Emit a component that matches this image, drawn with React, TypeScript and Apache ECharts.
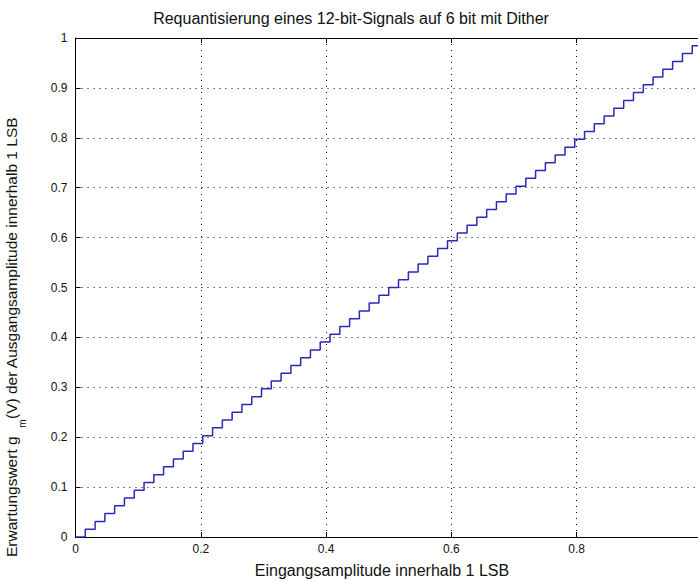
import React, { useEffect, useRef } from "react";
import * as echarts from "echarts";

const inputEdges = [
  0, 0.0156, 0.0313, 0.0469, 0.0625, 0.0781, 0.0938, 0.1094, 0.125, 0.1406, 0.1563, 0.1719, 0.1875,
  0.2031, 0.2188, 0.2344, 0.25, 0.2656, 0.2813, 0.2969, 0.3125, 0.3281, 0.3438, 0.3594, 0.375, 0.3906,
  0.4063, 0.4219, 0.4375, 0.4531, 0.4688, 0.4844, 0.5, 0.5156, 0.5313, 0.5469, 0.5625, 0.5781, 0.5938,
  0.6094, 0.625, 0.6406, 0.6563, 0.6719, 0.6875, 0.7031, 0.7188, 0.7344, 0.75, 0.7656, 0.7813, 0.7969,
  0.8125, 0.8281, 0.8438, 0.8594, 0.875, 0.8906, 0.9063, 0.9219, 0.9375, 0.9531, 0.9688, 0.9844, 1,
];
const outputLevels = [
  0, 0.0156, 0.0313, 0.0469, 0.0625, 0.0781, 0.0938, 0.1094, 0.125, 0.1406, 0.1563, 0.1719, 0.1875,
  0.2031, 0.2188, 0.2344, 0.25, 0.2656, 0.2813, 0.2969, 0.3125, 0.3281, 0.3438, 0.3594, 0.375, 0.3906,
  0.4063, 0.4219, 0.4375, 0.4531, 0.4688, 0.4844, 0.5, 0.5156, 0.5313, 0.5469, 0.5625, 0.5781, 0.5938,
  0.6094, 0.625, 0.6406, 0.6563, 0.6719, 0.6875, 0.7031, 0.7188, 0.7344, 0.75, 0.7656, 0.7813, 0.7969,
  0.8125, 0.8281, 0.8438, 0.8594, 0.875, 0.8906, 0.9063, 0.9219, 0.9375, 0.9531, 0.9688, 0.9844, 0.9844,
];

const titleText = "Requantisierung eines 12-bit-Signals auf 6 bit mit Dither";
const xLabelText = "Eingangsamplitude innerhalb 1 LSB";

const FONT = "'Liberation Sans', Arial, sans-serif";

export default function App() {
  const ref = useRef<HTMLDivElement>(null);
  useEffect(() => {
    document.body.style.margin = "0";
    const chart = echarts.init(ref.current!, null, { renderer: "svg" });
    const data = inputEdges.map((x, i) => [x, outputLevels[i]]);
    chart.setOption({
      animation: false,
      backgroundColor: "#ffffff",
      textStyle: { fontFamily: FONT },
      grid: {
        left: 75.5,
        top: 38,
        right: -4,
        bottom: 44,
        containLabel: false,
        outerBoundsMode: "none",
      },
      xAxis: [
        {
          type: "value",
          min: 0,
          max: 1,
          interval: 0.2,
          axisLine: { show: true, lineStyle: { color: "#000", width: 1 } },
          axisTick: { show: true, inside: true, length: 5, lineStyle: { color: "#000" } },
          axisLabel: {
            color: "#111",
            fontSize: 12,
            margin: 6,
            fontFamily: FONT,
            formatter: (v: number) => (v >= 1 ? "" : String(v)),
          },
          splitLine: { show: true, lineStyle: { color: "#000", type: [1, 5], width: 1 } },
        },
        {
          type: "value",
          position: "top",
          min: 0,
          max: 1,
          interval: 0.2,
          axisLine: { show: true, onZero: false, lineStyle: { color: "#000", width: 1 } },
          axisTick: { show: true, inside: true, length: 5, lineStyle: { color: "#000" } },
          axisLabel: { show: false },
          splitLine: { show: false },
        },
      ],
      yAxis: {
        type: "value",
        min: 0,
        max: 1,
        interval: 0.1,
        axisLine: { show: true, lineStyle: { color: "#000", width: 1 } },
        axisTick: { show: true, inside: true, length: 5, lineStyle: { color: "#000" } },
        axisLabel: { color: "#111", fontSize: 12, margin: 8, fontFamily: FONT },
        splitLine: { show: true, lineStyle: { color: "#000", type: [1, 5], width: 1 } },
      },
      series: [
        {
          type: "line",
          step: "end",
          data,
          showSymbol: false,
          symbol: "none",
          lineStyle: { color: "#2a2ab8", width: 1.5 },
        },
      ],
      graphic: [
        {
          type: "text",
          x: 351,
          y: 18,
          style: {
            text: titleText,
            fill: "#111",
            fontSize: 16,
            fontFamily: FONT,
            align: "center",
            verticalAlign: "middle",
          },
        },
        {
          type: "text",
          x: 382,
          y: 570,
          style: {
            text: xLabelText,
            fill: "#111",
            fontSize: 16,
            fontFamily: FONT,
            align: "center",
            verticalAlign: "middle",
          },
        },
        {
          type: "text",
          x: 3,
          y: 337,
          rotation: Math.PI / 2,
          style: {
            text: "{a|Erwartungswert g  }{s|m}{a|(V) der Ausgangsamplitude innerhalb 1 LSB}",
            fill: "#111",
            align: "center",
            verticalAlign: "top",
            rich: {
              a: { fontSize: 15.5, fontFamily: FONT, fill: "#111", verticalAlign: "top", lineHeight: 18 },
              s: { fontSize: 10, fontFamily: FONT, fill: "#111", verticalAlign: "top", lineHeight: 12, padding: [14, 0, 0, 0] },
            },
          },
        },
      ],
    });
    return () => chart.dispose();
  }, []);
  return <div ref={ref} style={{ position: "fixed", left: 0, top: 0, width: 698, height: 581 }} />;
}
